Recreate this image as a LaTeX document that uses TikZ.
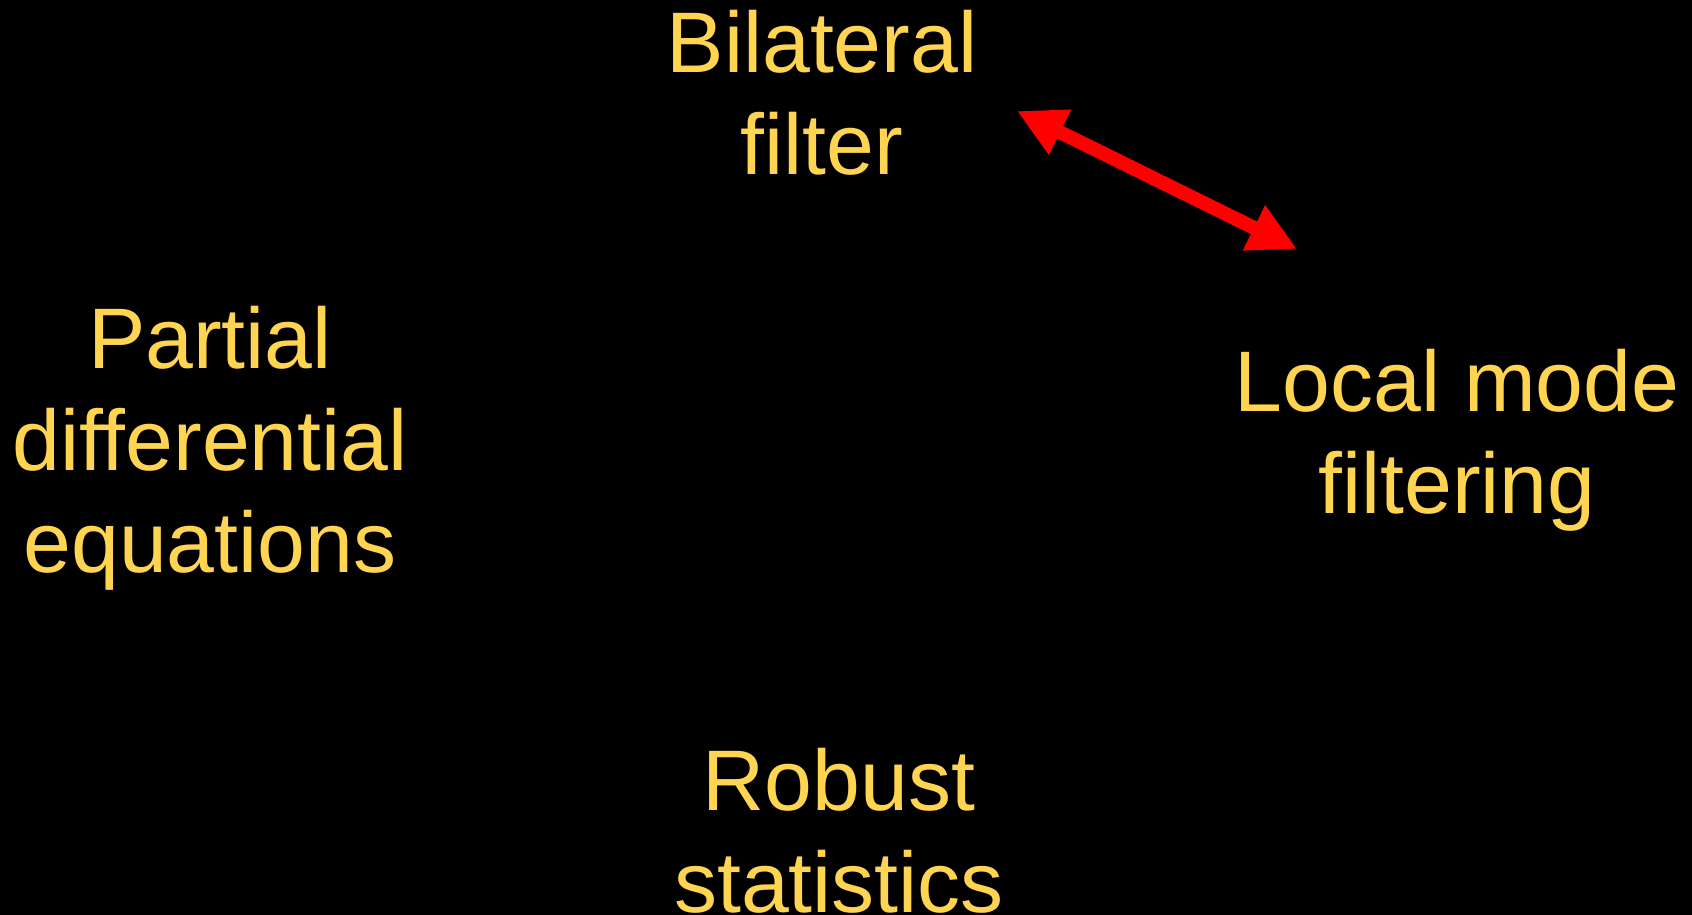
\documentclass[tikz,border=0pt]{standalone}
\usepackage{fontspec}
\setmainfont{Liberation Sans}
\usetikzlibrary{arrows.meta}
\definecolor{txtyellow}{RGB}{255,212,80}
\definecolor{arrowred}{RGB}{255,0,0}
\begin{document}
\begin{tikzpicture}[x=1pt,y=-1pt,
  label/.style={text=txtyellow, align=center, anchor=base, inner sep=0pt,
    font=\fontsize{86}{102}\selectfont},
  link/.style={draw=arrowred, line width=14pt,
    {Triangle[length=48pt,width=47pt]}-{Triangle[length=48pt,width=47pt]}}]
\fill[black] (0,0) rectangle (1692,915);
\useasboundingbox (0,0) rectangle (1692,915);
\node[label] (bil) at (822,175) {Bilateral\\filter};
\node[label] (pde) at (210,572) {Partial\\differential\\equations};
\node[label] (lmf) at (1457,513) {Local mode\\filtering};
\node[label] (rob) at (839,912) {Robust\\statistics};
\coordinate (a1) at (1017,111);
\coordinate (a2) at (1297,249);
\draw[link] (a1) -- (a2);
\end{tikzpicture}
\end{document}
